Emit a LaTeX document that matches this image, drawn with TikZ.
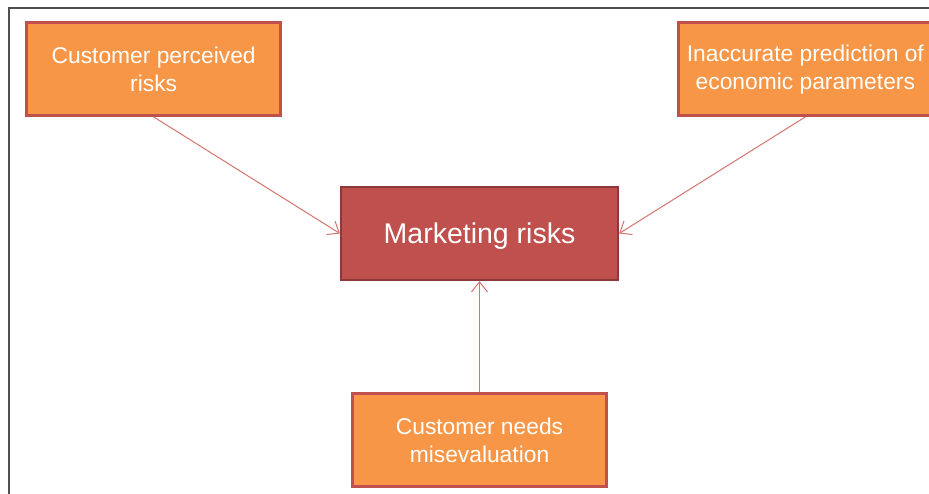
\documentclass[tikz,border=0pt]{standalone}
\usepackage{fontspec}
\setmainfont{Liberation Sans}
\usepackage{xcolor}
\usetikzlibrary{arrows.meta, positioning}

\definecolor{boxorange}{HTML}{F79646}
\definecolor{boxred}{HTML}{C0504D}
\definecolor{darkred}{HTML}{8C3A38}
\definecolor{linkred}{HTML}{D4756F}
\definecolor{framegray}{HTML}{505050}

\begin{document}
\begin{tikzpicture}[
      x=1pt, y=1pt,
      cause/.style={draw=boxred, line width=2.5pt, fill=boxorange, text=white,
        minimum width=254pt, minimum height=93pt, align=center,
        font=\fontsize{22.8}{28}\selectfont},
      effect/.style={draw=darkred, line width=2.2pt, fill=boxred, text=white,
        minimum width=277pt, minimum height=93pt, align=center,
        font=\fontsize{28.5}{32}\selectfont},
      arr/.style={-{Straight Barb[length=10pt, width=16pt]}, draw=linkred, line width=1pt}
    ]
    \clip (0,0) rectangle (929,-493);
    \fill[white] (0,0) rectangle (929,-493);
    \draw[framegray, line width=1.6pt] (9,-500) -- (9,-8) -- (940,-8);

    \node[effect, text depth=0pt] (mkt) at (479.5,-233.5) {Marketing risks};
    \node[cause, above left=69pt and 58pt of mkt] (perceived) {Customer perceived\\risks};
    \node[cause, above right=69pt and 58pt of mkt] (predict) {Inaccurate prediction of\\economic parameters};
    \node[cause, below=111pt of mkt] (needs) {Customer needs\\misevaluation};

    \draw[arr] (perceived.south) -- (mkt.west);
    \draw[arr] (predict.south) -- (mkt.east);
    \draw[arr] (needs.north) -- (mkt.south);
  \end{tikzpicture}
\end{document}
